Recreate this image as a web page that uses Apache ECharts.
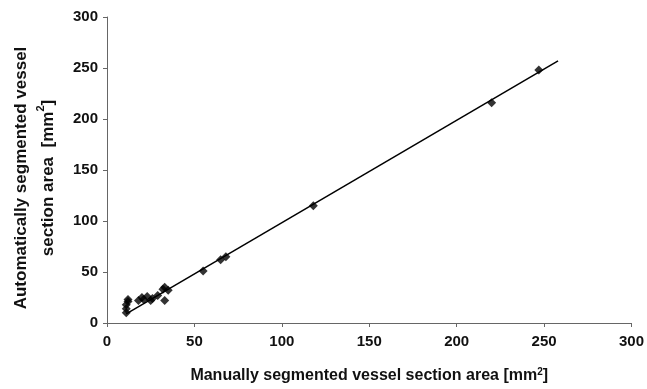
<!DOCTYPE html>
<html>
<head>
<meta charset="utf-8">
<script src="https://cdn.jsdelivr.net/npm/echarts@6/dist/echarts.min.js"></script>
<style>
html,body{margin:0;padding:0;background:#fff;}
#chart{width:647px;height:389px;}
</style>
</head>
<body>
<div id="chart"></div>
<script>
// Measured points: manual (x) vs automatic (y) section area, mm^2
const manualArea = [11, 11, 11, 12, 12, 18, 20, 21, 23, 25, 26, 29, 32, 33, 33, 35, 55, 65, 68, 118, 220, 247];
const autoArea   = [10, 14, 18, 21, 23, 22, 25, 23, 26, 22, 24, 27, 33, 22, 35, 32, 51, 62, 65, 115, 216, 248];
// Regression line end points
const fitX = [11, 258];
const fitY = [9, 257];
const axisTicks = [0, 50, 100, 150, 200, 250, 300];

const points = manualArea.map((x, i) => [x, autoArea[i]]);
const fitLine = fitX.map((x, i) => [x, fitY[i]]);

const font = 'Liberation Sans, Arial, sans-serif';
const chart = echarts.init(document.getElementById('chart'), null, {renderer: 'canvas'});
chart.setOption({
  animation: false,
  backgroundColor: '#fff',
  grid: {left: 106, right: 13, top: 17, bottom: 63, containLabel: false},
  xAxis: {
    type: 'value', min: axisTicks[0], max: axisTicks[axisTicks.length - 1], interval: 50,
    splitLine: {show: false},
    axisLine: {lineStyle: {color: '#666', width: 1}},
    axisTick: {show: true, inside: false, length: 4, lineStyle: {color: '#666'}},
    axisLabel: {color: '#111', fontSize: 15, fontWeight: 'bold', fontFamily: font, margin: 11},
    name: '{t|Manually segmented vessel section area [mm}{s|2}{t|]}',
    nameLocation: 'middle', nameGap: 44,
    nameTextStyle: {
      rich: {
        t: {fontSize: 16, fontWeight: 'bold', fontFamily: font, color: '#111'},
        s: {fontSize: 10, fontWeight: 'bold', fontFamily: font, color: '#111', verticalAlign: 'top', padding: [0, 0, 8, 0]}
      }
    }
  },
  yAxis: {
    type: 'value', min: axisTicks[0], max: axisTicks[axisTicks.length - 1], interval: 50,
    splitLine: {show: false},
    axisLine: {show: true, lineStyle: {color: '#666', width: 1}},
    axisTick: {show: true, inside: false, length: 4, lineStyle: {color: '#666'}},
    axisLabel: {color: '#111', fontSize: 15, fontWeight: 'bold', fontFamily: font, margin: 9},
    name: '{t|Automatically segmented vessel}\n{t|section area  [mm}{s|2}{t|]}',
    nameLocation: 'middle', nameGap: 45, nameRotate: 90,
    nameTextStyle: {
      lineHeight: 27,
      padding: [0, 16, 0, 0],
      rich: {
        t: {fontSize: 17, fontWeight: 'bold', fontFamily: font, color: '#111', lineHeight: 27},
        s: {fontSize: 11, fontWeight: 'bold', fontFamily: font, color: '#111', verticalAlign: 'top', padding: [0, 0, 8, 0], lineHeight: 27}
      }
    }
  },
  series: [
    {
      type: 'line', data: fitLine, symbol: 'none',
      lineStyle: {color: '#000', width: 1.5}, z: 2
    },
    {
      type: 'scatter', data: points, symbol: 'diamond', symbolSize: 9,
      itemStyle: {color: '#000'}, z: 3
    }
  ]
});
</script>
</body>
</html>
